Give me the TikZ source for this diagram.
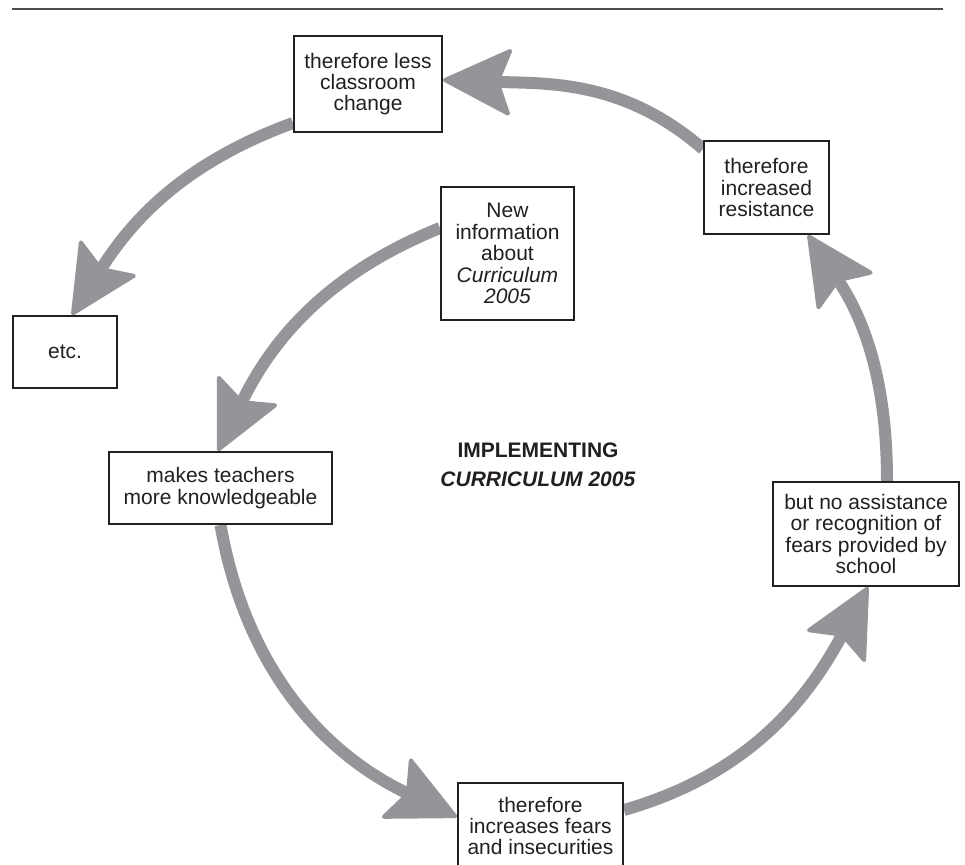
\documentclass[tikz,border=0pt]{standalone}
\usepackage{fontspec}
\setmainfont{Liberation Sans}
\usepackage{xcolor}
\usepackage{tikz}
\usetikzlibrary{arrows.meta, backgrounds}

\definecolor{cyclegray}{RGB}{147,149,152}
\definecolor{inkblack}{RGB}{35,31,32}
\definecolor{rulegray}{RGB}{77,77,79}

\begin{document}
\begin{tikzpicture}[
  x=0.5pt, y=0.5pt,
  card/.style={
    rectangle, draw=inkblack, line width=1pt, fill=white,
    align=center, inner sep=0pt, text=inkblack,
    font=\fontsize{10.5}{10.7}\selectfont
  },
  flow/.style={
    draw=cyclegray, line width=6pt,
    -{Stealth[length=36pt, width=35pt, inset=6.5pt, round, line width=2pt]}
  }
]
\useasboundingbox (0,0) rectangle (965,864);
\draw[rulegray, line width=1pt] (12,855) -- (943,855);

\node[card, minimum width=74pt, minimum height=48pt] (less) at (368,780) {therefore less\\classroom\\change};
\node[card, minimum width=62.5pt, minimum height=46.5pt] (resist) at (766.5,676.5) {therefore\\increased\\resistance};
\node[card, minimum width=66.5pt, minimum height=66.5pt] (newinfo) at (507.5,610.5) {New\\information\\about\\\textit{Curriculum}\\\textit{2005}};
\node[card, minimum width=52pt, minimum height=36pt] (etc) at (65,512) {etc.};
\node[card, minimum width=111.5pt, minimum height=36pt] (teach) at (220.5,376) {makes teachers\\more knowledgeable};
\node[card, minimum width=93pt, minimum height=52pt] (assist) at (866,330) {but no assistance\\or recognition of\\fears provided by\\school};
\node[card, minimum width=82.5pt, minimum height=43pt] (fears) at (540.5,38) {therefore\\increases fears\\and insecurities};

% titolo al centro del ciclo
\node[align=center, text=inkblack, font=\fontsize{10.5}{14.5}\selectfont\bfseries] (title) at (538,399) {IMPLEMENTING\\\textit{CURRICULUM 2005}};

\begin{scope}[on background layer]
  \draw[flow] ([yshift=12.75pt]newinfo.west) to[out=202, in=64] ([xshift=-1.25pt]teach.north);
  \draw[flow] (teach.south) to[out=-80, in=154.5] ([yshift=4.5pt]fears.west);
  \draw[flow] ([yshift=8pt]fears.east) to[out=16, in=241.6] ([xshift=1pt]assist.south);
  \draw[flow] ([xshift=10.5pt]assist.north) to[out=90, in=-56.4] ([xshift=20.75pt]resist.south);
  \draw[flow] ([yshift=-4.5pt]resist.north west) to[out=139, in=-2] ([yshift=2pt]less.east);
  \draw[flow] ([yshift=5pt]less.south west) to[out=200, in=57.7] ([xshift=3.5pt]etc.north);
\end{scope}
\end{tikzpicture}
\end{document}
